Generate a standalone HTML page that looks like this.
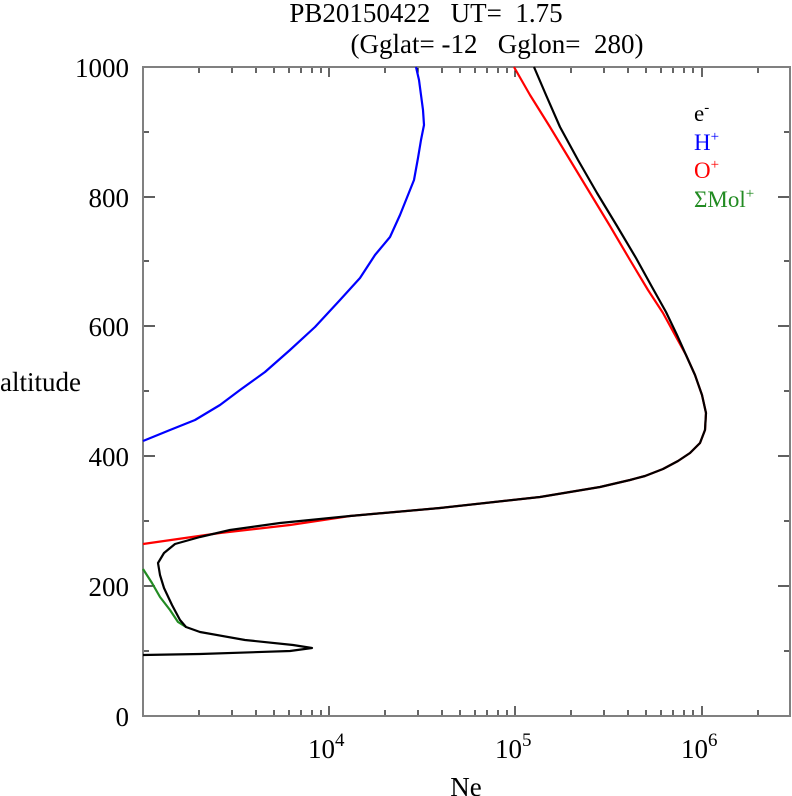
<!DOCTYPE html>
<html><head><meta charset="utf-8"><style>
body{margin:0;background:#fff}
svg{display:block}
text{font-family:"Liberation Serif",serif}
</style></head><body>
<svg width="792" height="796" viewBox="0 0 792 796" xmlns="http://www.w3.org/2000/svg">
<rect width="792" height="796" fill="#fff"/>
<text x="426" y="22" font-size="27" text-anchor="middle" xml:space="preserve">PB20150422   UT=  1.75</text>
<text x="497" y="53" font-size="27" text-anchor="middle" xml:space="preserve">(Gglat= -12   Gglon=  280)</text>
<g stroke="#000" stroke-width="1.2">
<path d="M143 586H155M143 456H155M143 326H155M143 197H155M143 651H149M143 521H149M143 391H149M143 261H149M143 132H149
M790 586H778M790 456H778M790 326H778M790 197H778M790 651H784M790 521H784M790 391H784M790 261H784M790 132H784"/>
<path d="M329 716V706M515 716V706M702 716V706M329 67V77M515 67V77M702 67V77
M199 716V710M232 716V710M256 716V710M274 716V710M289 716V710M301 716V710M312 716V710M321 716V710
M385 716V710M418 716V710M442 716V710M460 716V710M475 716V710M487 716V710M498 716V710M507 716V710
M571 716V710M604 716V710M628 716V710M646 716V710M661 716V710M673 716V710M684 716V710M693 716V710
M758 716V710
M199 67V73M232 67V73M256 67V73M274 67V73M289 67V73M301 67V73M312 67V73M321 67V73
M385 67V73M418 67V73M442 67V73M460 67V73M475 67V73M487 67V73M498 67V73M507 67V73
M571 67V73M604 67V73M628 67V73M646 67V73M661 67V73M673 67V73M684 67V73M693 67V73
M758 67V73"/>
</g>
<rect x="143" y="67" width="647" height="649" fill="none" stroke="#808080" stroke-width="2"/>
<g font-size="27" text-anchor="end">
<text x="129" y="726">0</text><text x="129" y="596">200</text><text x="129" y="466">400</text>
<text x="129" y="336">600</text><text x="129" y="207">800</text><text x="129" y="77">1000</text>
</g>
<text x="0" y="391" font-size="27">altitude</text>
<g font-size="27">
<text x="308" y="758">10<tspan font-size="19" dy="-12">4</tspan></text>
<text x="495" y="758">10<tspan font-size="19" dy="-12">5</tspan></text>
<text x="681" y="758">10<tspan font-size="19" dy="-12">6</tspan></text>
</g>
<text x="466" y="796" font-size="27" text-anchor="middle">Ne</text>
<g font-size="23">
<text x="694" y="121">e<tspan font-size="15" dy="-9">-</tspan></text>
<text x="694" y="150" fill="#0000ff">H<tspan font-size="15" dy="-9">+</tspan></text>
<text x="694" y="178" fill="#ff0000">O<tspan font-size="15" dy="-9">+</tspan></text>
<text x="694" y="207" fill="#228b22">ΣMol<tspan font-size="15" dy="-9">+</tspan></text>
</g>
<g fill="none" stroke-width="2.2" stroke-linejoin="round">
<polyline stroke="#0000ff" points="143,441 170,430 195,420 220,405 240,390 265,372 290,350 315,327 340,300 360,278 375,255 390,237 400,215 408,195 414,180 418,158 421,140 424,125 423,110 421,95 419,80 416,67"/>
<polyline stroke="#ff0000" points="514,67 530,95 550,127 570,160 590,193 610,226 630,260 648,290 663,313 675,335 686,355 695,375 702,395 706,413 705,430 700,443 690,453 678,461 663,469 645,476 630,480 600,487 540,497 440,508 350,516 290,525 220,533 143,544"/>
<polyline stroke="#228b22" points="143,569 152,583 160,597 170,610 178,622 186,627"/>
<polyline stroke="#000" points="534,67 546,95 560,127 578,160 597,193 617,226 636,258 652,287 666,312 677,335 686,355 695,375 702,395 706,413 705,430 700,443 690,453 678,461 663,469 645,476 630,480 600,487 540,497 440,508 350,516 280,523 230,530 200,537 175,544 164,553 158,563 160,575 164,588 172,605 180,620 186,627 200,632 245,640 293,645 312,648 290,651 200,654 143,655"/>
</g>
</svg>
</body></html>
